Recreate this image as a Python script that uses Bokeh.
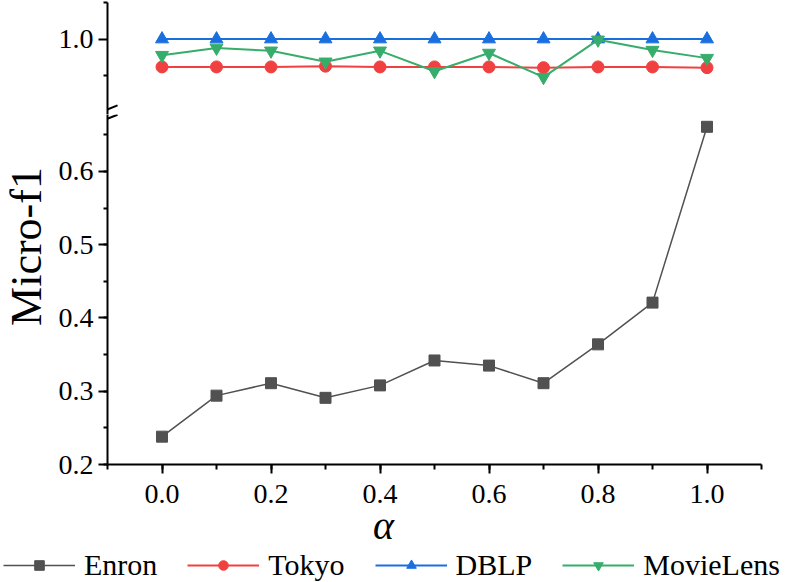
from bokeh.plotting import figure
from bokeh.models import (Range1d, SingleIntervalTicker, FixedTicker, Legend,
                          LegendItem, Label, Arrow, PrintfTickFormatter)
from bokeh.layouts import column, row
from bokeh.embed import file_html
from bokeh.resources import INLINE

# ---- data ----
alpha = [0.0, 0.1, 0.2, 0.3, 0.4, 0.5, 0.6, 0.7, 0.8, 0.9, 1.0]
enron = [0.238, 0.294, 0.311, 0.291, 0.308, 0.342, 0.335, 0.311, 0.364, 0.421, 0.661]
tokyo = [0.962, 0.962, 0.962, 0.963, 0.962, 0.962, 0.962, 0.961, 0.962, 0.962, 0.961]
dblp = [1.0, 1.0, 1.0, 1.0, 1.0, 1.0, 1.0, 1.0, 1.0, 1.0, 1.0]
movielens = [0.978, 0.988, 0.984, 0.969, 0.984, 0.956, 0.981, 0.948, 0.999, 0.985, 0.974]
series_names = ["Enron", "Tokyo", "DBLP", "MovieLens"]
y_title = "Micro-f1"
x_title = "α"

FONT = "Liberation Serif"
styles = {
    "Enron": ("#515151", "square", 11, 1.5),
    "Tokyo": ("#F14040", "circle", 12, 2),
    "DBLP": ("#1A6FDF", "triangle", 13, 2),
    "MovieLens": ("#37AD6B", "inverted_triangle", 13, 2),
}
values = {"Enron": enron, "Tokyo": tokyo, "DBLP": dblp, "MovieLens": movielens}

x_range = Range1d(-0.1, 1.1)
TW = 50                      # width of the y-title strip
LEFT, FW, RIGHT = 107 - TW, 654, 28


def style_y(p):
    ax = p.yaxis[0]
    ax.axis_line_width = 2
    ax.major_tick_line_width = 2
    ax.minor_tick_line_width = 2
    ax.major_tick_out = 9
    ax.major_tick_in = 0
    ax.minor_tick_out = 4
    ax.minor_tick_in = 0
    ax.major_label_text_font = FONT
    ax.major_label_text_font_size = "28px"
    ax.major_label_text_color = "black"
    ax.major_label_standoff = 5
    ax.formatter = PrintfTickFormatter(format="%.1f")


def add_series(p):
    out = {}
    for name in series_names:
        color, marker, size, lw = styles[name]
        lr = p.line(alpha, values[name], line_color=color, line_width=lw)
        sr = p.scatter(alpha, values[name], marker=marker, size=size,
                       fill_color=color, line_color=color)
        out[name] = [lr, sr]
    return out


# ---- upper panel ----
p1 = figure(frame_width=FW, frame_height=112, x_range=x_range,
            y_range=Range1d(0.897, 1.05), output_backend="svg",
            toolbar_location=None, min_border_left=LEFT, min_border_right=RIGHT,
            min_border_top=2, min_border_bottom=0, x_axis_location=None)
p1.outline_line_color = None
p1.grid.visible = False
p1.yaxis[0].ticker = FixedTicker(ticks=[1.0], minor_ticks=[0.95, 1.05])
style_y(p1)
add_series(p1)
p1.add_layout(Arrow(end=None, x_start=-0.1184, y_start=0.8985,
                    x_end=-0.0816, y_end=0.9095, line_width=2, line_color="black"))

# ---- lower panel ----
p2 = figure(frame_width=FW, frame_height=350, x_range=x_range,
            y_range=Range1d(0.2, 0.6778), output_backend="svg",
            toolbar_location=None, min_border_left=LEFT, min_border_right=RIGHT,
            min_border_top=0, min_border_bottom=50)
p2.outline_line_color = None
p2.grid.visible = False
p2.yaxis[0].ticker = SingleIntervalTicker(interval=0.1, num_minor_ticks=2)
style_y(p2)
xa = p2.xaxis[0]
xa.ticker = SingleIntervalTicker(interval=0.2, num_minor_ticks=2)
xa.formatter = PrintfTickFormatter(format="%.1f")
xa.axis_line_width = 2
xa.major_tick_line_width = 2
xa.minor_tick_line_width = 2
xa.major_tick_out = 9
xa.major_tick_in = 0
xa.minor_tick_out = 5
xa.minor_tick_in = 0
xa.major_label_text_font = FONT
xa.major_label_text_font_size = "28px"
xa.major_label_text_color = "black"
xa.major_label_standoff = 11
add_series(p2)
p2.add_layout(Arrow(end=None, x_start=-0.1184, y_start=0.6665,
                    x_end=-0.0816, y_end=0.6775, line_width=2, line_color="black"))

# ---- y-title strip ----
pt = figure(frame_width=TW, frame_height=464, output_backend="svg",
            toolbar_location=None, min_border=0,
            x_axis_location=None, y_axis_location=None)
pt.outline_line_color = None
pt.grid.visible = False
pt.add_layout(Label(x=26, y=464 - 246, x_units="screen", y_units="screen",
                    text=y_title, angle=90, angle_units="deg",
                    text_align="center", text_baseline="middle",
                    text_font=FONT, text_font_size="44px", text_color="black"))

# ---- x-title + legend strip (same series, drawn outside its visible range) ----
OVERLAP = 18
H3 = 68 + OVERLAP
p3 = figure(frame_width=789, frame_height=H3, x_range=x_range,
            y_range=Range1d(10, 11), output_backend="svg",
            toolbar_location=None, min_border=0,
            x_axis_location=None, y_axis_location=None)
p3.margin = (-OVERLAP, 0, 0, 0)
p3.background_fill_alpha = 0
p3.border_fill_alpha = 0
p3.outline_line_color = None
p3.grid.visible = False
rs = add_series(p3)
p3.add_layout(Label(x=383, y=57, x_units="screen", y_units="screen",
                    text=x_title, text_align="center", text_baseline="middle",
                    text_font=FONT, text_font_size="40px", text_font_style="italic",
                    text_color="black"))
legend = Legend(items=[LegendItem(label=n, renderers=rs[n]) for n in series_names],
                orientation="horizontal", location=(3, 0),
                glyph_width=72, glyph_height=24, label_standoff=9, spacing=30,
                padding=0, margin=0, border_line_color=None,
                background_fill_alpha=0,
                label_text_font=FONT, label_text_font_size="30px",
                label_text_color="black")
p3.add_layout(legend)

layout = column(row(pt, column(p1, p2, spacing=0), spacing=0), p3, spacing=0)
open("out.html", "w").write(file_html(layout, INLINE))
